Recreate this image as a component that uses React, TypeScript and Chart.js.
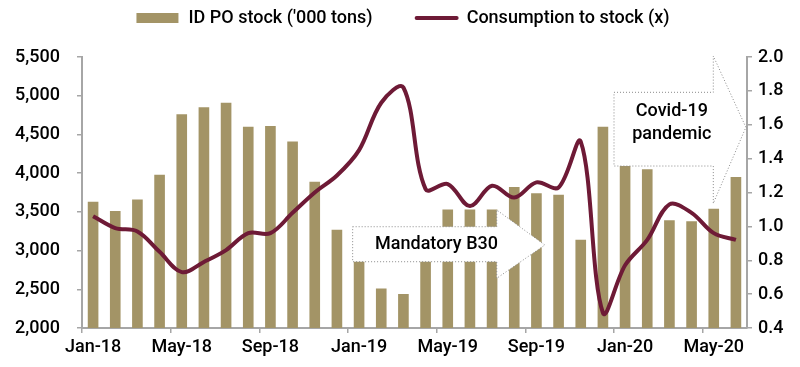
import React, { useEffect, useRef } from "react";
import { Chart, registerables } from "chart.js";

Chart.register(...registerables);

const months = [
  "Jan-18", "Feb-18", "Mar-18", "Apr-18", "May-18", "Jun-18", "Jul-18", "Aug-18", "Sep-18", "Oct-18", "Nov-18", "Dec-18",
  "Jan-19", "Feb-19", "Mar-19", "Apr-19", "May-19", "Jun-19", "Jul-19", "Aug-19", "Sep-19", "Oct-19", "Nov-19", "Dec-19",
  "Jan-20", "Feb-20", "Mar-20", "Apr-20", "May-20", "Jun-20",
];

const stockKt = [
  3630, 3510, 3660, 3980, 4760, 4850, 4910, 4600, 4610, 4410, 3890, 3270,
  2900, 2510, 2440, 3000, 3530, 3530, 3530, 3820, 3740, 3720, 3140, 4600,
  4150, 4050, 3390, 3380, 3540, 3950,
];

const consumptionRatio = [
  1.06, 0.99, 0.97, 0.85, 0.73, 0.79, 0.86, 0.96, 0.96, 1.08, 1.2, 1.3,
  1.45, 1.73, 1.82, 1.22, 1.25, 1.12, 1.24, 1.17, 1.26, 1.23, 1.5, 0.49,
  0.77, 0.92, 1.13, 1.08, 0.96, 0.92,
];

const seriesNames = ["ID PO stock ('000 tons)", "Consumption to stock (x)"];
const annotationTexts = { b30: "Mandatory B30", covid: ["Covid-19", "pandemic"] };

const BAR_COLOR = "#a39466";
const LINE_COLOR = "#6e1a36";
const AXIS_COLOR = "#a6a6a6";
const TEXT_COLOR = "#000000";
const FONT_FAMILY = "Roboto, 'DejaVu Sans', sans-serif";
const FONT_SIZE = 18;
const FONT_WEIGHT = "500";

const annotationPlugin = {
  id: "arrowAnnotations",
  afterDatasetsDraw(chart: any) {
    const ctx = chart.ctx;
    const x = chart.scales.x;
    const y = chart.scales.y;
    const px = (i: number) => x.getPixelForValue(i);
    const py = (v: number) => y.getPixelForValue(v);

    const drawShape = (pts: [number, number][]) => {
      ctx.save();
      ctx.beginPath();
      pts.forEach(([a, b], k) => {
        const X = px(a);
        const Y = py(b);
        if (k === 0) ctx.moveTo(X, Y);
        else ctx.lineTo(X, Y);
      });
      ctx.closePath();
      ctx.fillStyle = "#ffffff";
      ctx.fill();
      ctx.setLineDash([1, 2]);
      ctx.lineWidth = 1;
      ctx.strokeStyle = "#8a8a8a";
      ctx.stroke();
      ctx.restore();
    };

    // Mandatory B30 arrow
    drawShape([
      [11.71, 3308],
      [18.21, 3308],
      [18.21, 3524],
      [20.38, 3072],
      [18.21, 2642],
      [18.21, 2856],
      [11.71, 2856],
    ]);
    // Covid-19 arrow
    drawShape([
      [23.5, 5044],
      [27.98, 5044],
      [27.98, 5513],
      [29.45, 4592],
      [27.98, 3610],
      [27.98, 4092],
      [23.5, 4092],
    ]);

    ctx.save();
    ctx.fillStyle = TEXT_COLOR;
    ctx.font = `${FONT_WEIGHT} ${FONT_SIZE}px ${FONT_FAMILY}`;
    ctx.textBaseline = "middle";
    ctx.textAlign = "left";
    ctx.fillText(annotationTexts.b30, px(12.72), py(3072));
    ctx.textAlign = "center";
    ctx.fillText(annotationTexts.covid[0], px(26.11), py(4793));
    ctx.fillText(annotationTexts.covid[1], px(26.11), py(4493));
    ctx.restore();
  },
};

const legendPlugin = {
  id: "customLegend",
  afterDraw(chart: any) {
    const ctx = chart.ctx;
    ctx.save();
    ctx.font = `${FONT_WEIGHT} ${FONT_SIZE}px ${FONT_FAMILY}`;
    ctx.textBaseline = "middle";
    ctx.textAlign = "left";
    const w1 = ctx.measureText(seriesNames[0]).width;
    const w2 = ctx.measureText(seriesNames[1]).width;
    const total = 42 + 10 + w1 + 42 + 44 + 8 + w2;
    const cy = 18;
    let cx = 403 - total / 2;
    ctx.fillStyle = BAR_COLOR;
    ctx.fillRect(cx, cy - 5, 42, 10);
    cx += 52;
    ctx.fillStyle = TEXT_COLOR;
    ctx.fillText(seriesNames[0], cx, cy);
    cx += w1 + 42;
    ctx.strokeStyle = LINE_COLOR;
    ctx.lineWidth = 4;
    ctx.lineCap = "round";
    ctx.beginPath();
    ctx.moveTo(cx + 2, cy);
    ctx.lineTo(cx + 42, cy);
    ctx.stroke();
    cx += 52;
    ctx.fillText(seriesNames[1], cx, cy);
    ctx.restore();
  },
};

export default function App() {
  const canvasRef = useRef<HTMLCanvasElement | null>(null);

  useEffect(() => {
    document.body.style.margin = "0";
    const canvas = canvasRef.current;
    if (!canvas) return;
    const font = { family: FONT_FAMILY, size: FONT_SIZE, weight: FONT_WEIGHT };
    const chart = new Chart(canvas, {
      type: "bar",
      data: {
        labels: months,
        datasets: [
          {
            type: "bar",
            label: seriesNames[0],
            data: stockKt,
            backgroundColor: BAR_COLOR,
            categoryPercentage: 1,
            barPercentage: 0.48,
            yAxisID: "y",
            order: 1,
          },
          {
            type: "line",
            label: seriesNames[1],
            data: consumptionRatio,
            borderColor: LINE_COLOR,
            borderWidth: 4,
            pointRadius: 0,
            tension: 0.35,
            yAxisID: "y1",
            order: 0,
          } as any,
        ],
      },
      options: {
        responsive: false,
        animation: false,
        devicePixelRatio: 1,
        layout: { padding: { top: 57, left: 0, right: 0, bottom: 0 } },
        plugins: {
          legend: { display: false },
          tooltip: { enabled: false },
        },
        scales: {
          x: {
            type: "category",
            offset: true,
            grid: {
              offset: true,
              drawOnChartArea: false,
              drawTicks: true,
              tickLength: 5,
              lineWidth: 1.5,
              color: (c: any) => (c.index % 4 === 0 ? AXIS_COLOR : "rgba(0,0,0,0)"),
            },
            border: { color: AXIS_COLOR, width: 2 },
            ticks: {
              autoSkip: false,
              maxRotation: 0,
              padding: 4,
              font,
              color: TEXT_COLOR,
              callback: (_v: any, i: number) => (i % 4 === 0 ? months[i] : ""),
            },
            afterFit: (s: any) => {
              s.height = 39;
            },
          },
          y: {
            position: "left",
            min: 2000,
            max: 5500,
            grid: { drawOnChartArea: false, tickLength: 5, color: AXIS_COLOR, lineWidth: 1.5 },
            border: { color: AXIS_COLOR, width: 2 },
            ticks: {
              stepSize: 500,
              padding: 17,
              font,
              color: TEXT_COLOR,
              callback: (v: any) => Number(v).toLocaleString("en-US"),
            },
            afterFit: (s: any) => {
              s.width = 82;
            },
          },
          y1: {
            position: "right",
            min: 0.4,
            max: 2.0,
            grid: { drawOnChartArea: false, tickLength: 5, color: AXIS_COLOR, lineWidth: 1.5 },
            border: { color: AXIS_COLOR, width: 2 },
            ticks: {
              stepSize: 0.2,
              padding: 6,
              font,
              color: TEXT_COLOR,
              callback: (v: any) => Number(v).toFixed(1),
            },
            afterFit: (s: any) => {
              s.width = 53;
            },
          },
        },
      } as any,
      plugins: [annotationPlugin, legendPlugin],
    });
    return () => chart.destroy();
  }, []);

  return (
    <canvas
      ref={canvasRef}
      width={800}
      height={367}
      style={{ display: "block", width: 800, height: 367 }}
    />
  );
}
